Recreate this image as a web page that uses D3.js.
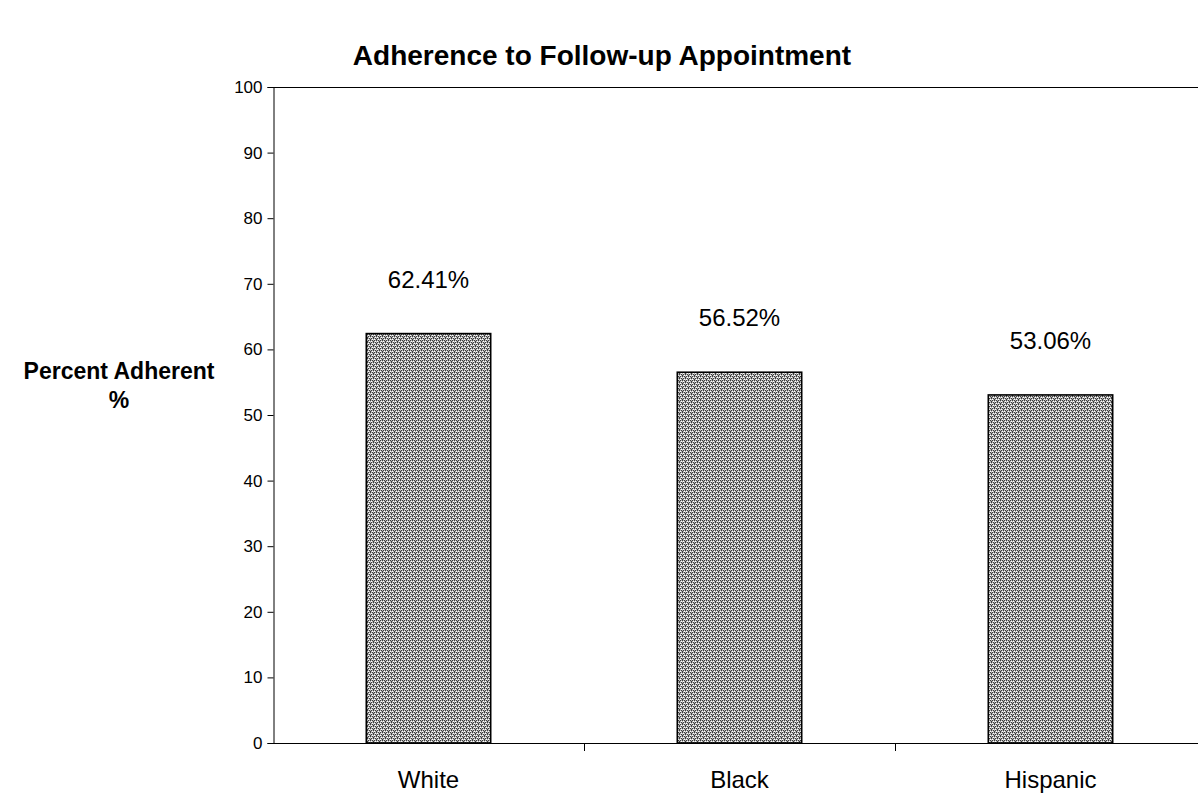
<!DOCTYPE html>
<html>
<head>
<meta charset="utf-8">
<script src="https://cdn.jsdelivr.net/npm/d3@7"></script>
<style>
  html, body { margin: 0; padding: 0; background: #ffffff; }
  svg { display: block; }
  text { font-family: "Liberation Sans", Arial, Helvetica, sans-serif; fill: #000; }
</style>
</head>
<body>
<svg id="chart" width="1198" height="801"></svg>
<script>
// Adherence to follow-up appointment, by group
const categories = ["White", "Black", "Hispanic"];
const adherence = [62.41, 56.52, 53.06];
const valueLabels = ["62.41%", "56.52%", "53.06%"];
const yTicks = [0, 10, 20, 30, 40, 50, 60, 70, 80, 90, 100];

const svg = d3.select("#chart");
const plot = { left: 273, right: 1206, top: 87, bottom: 743 };

// Dithered grey texture used for the bars
const defs = svg.append("defs");
const pat = defs.append("pattern")
  .attr("id", "dither")
  .attr("patternUnits", "userSpaceOnUse")
  .attr("width", 6).attr("height", 4);
pat.append("rect").attr("width", 6).attr("height", 4).attr("fill", "#b4b4b4");
const darkDots = [[0,0],[2,0],[4,0],[1,2],[3,2],[5,2],[1,1],[4,3]];
const lightDots = [[3,1],[0,3],[5,1],[2,3]];
darkDots.forEach(([x, y]) => pat.append("rect").attr("x", x).attr("y", y).attr("width", 1).attr("height", 1).attr("fill", "#3c3c3c"));
lightDots.forEach(([x, y]) => pat.append("rect").attr("x", x).attr("y", y).attr("width", 1).attr("height", 1).attr("fill", "#ffffff"));

const x = d3.scaleBand()
  .domain(categories)
  .range([plot.left, plot.right])
  .paddingInner(0.6)
  .paddingOuter(0.3);

const y = d3.scaleLinear()
  .domain([0, 100])
  .range([plot.bottom, plot.top]);

// Title
svg.append("text")
  .attr("x", 602).attr("y", 65)
  .attr("text-anchor", "middle")
  .attr("font-weight", "bold")
  .attr("font-size", 28)
  .text("Adherence to Follow-up Appointment");

// Top border of the plot area
svg.append("line")
  .attr("x1", plot.left).attr("x2", plot.right)
  .attr("y1", plot.top + 0.5).attr("y2", plot.top + 0.5)
  .attr("stroke", "#000").attr("stroke-width", 1);

// Y axis
const yAxis = d3.axisLeft(y).tickValues(yTicks).tickSize(6).tickPadding(5).tickFormat(d3.format("d"));
const gy = svg.append("g")
  .attr("transform", `translate(${plot.left + 0.5},0)`)
  .call(yAxis);
gy.selectAll("text").attr("font-size", 17).style("font-family", "'Liberation Sans', Arial, sans-serif");
gy.select(".domain").attr("stroke", "#000");
gy.selectAll(".tick line").attr("stroke", "#000");

// Bars
svg.append("g")
  .selectAll("rect")
  .data(categories)
  .join("rect")
  .attr("x", d => x(d))
  .attr("y", (d, i) => y(adherence[i]))
  .attr("width", x.bandwidth())
  .attr("height", (d, i) => y(0) - y(adherence[i]))
  .attr("fill", "url(#dither)")
  .attr("stroke", "#000")
  .attr("stroke-width", 1.6);

// X axis line with category separators
const gx = svg.append("g");
gx.append("line")
  .attr("x1", plot.left).attr("x2", plot.right)
  .attr("y1", plot.bottom + 0.5).attr("y2", plot.bottom + 0.5)
  .attr("stroke", "#000");
const catScale = d3.scalePoint().domain(d3.range(categories.length + 1)).range([plot.left, plot.right]);
gx.selectAll(".sep")
  .data([1, 2])
  .join("line")
  .attr("class", "sep")
  .attr("x1", d => catScale(d) + 0.5).attr("x2", d => catScale(d) + 0.5)
  .attr("y1", plot.bottom).attr("y2", plot.bottom + 8)
  .attr("stroke", "#000");

gx.selectAll(".cat")
  .data(categories)
  .join("text")
  .attr("class", "cat")
  .attr("x", d => x(d) + x.bandwidth() / 2)
  .attr("y", 788)
  .attr("text-anchor", "middle")
  .attr("font-size", 24)
  .text(d => d);

// Value labels above bars
svg.append("g")
  .selectAll("text")
  .data(categories)
  .join("text")
  .attr("x", d => x(d) + x.bandwidth() / 2)
  .attr("y", (d, i) => y(adherence[i]) - 46)
  .attr("text-anchor", "middle")
  .attr("font-size", 24)
  .text((d, i) => valueLabels[i]);

// Y axis title, two lines
svg.append("text")
  .attr("x", 119).attr("y", 379)
  .attr("text-anchor", "middle")
  .attr("font-weight", "bold")
  .attr("font-size", 23)
  .text("Percent Adherent");
svg.append("text")
  .attr("x", 119).attr("y", 408)
  .attr("text-anchor", "middle")
  .attr("font-weight", "bold")
  .attr("font-size", 23)
  .text("%");
</script>
</body>
</html>
